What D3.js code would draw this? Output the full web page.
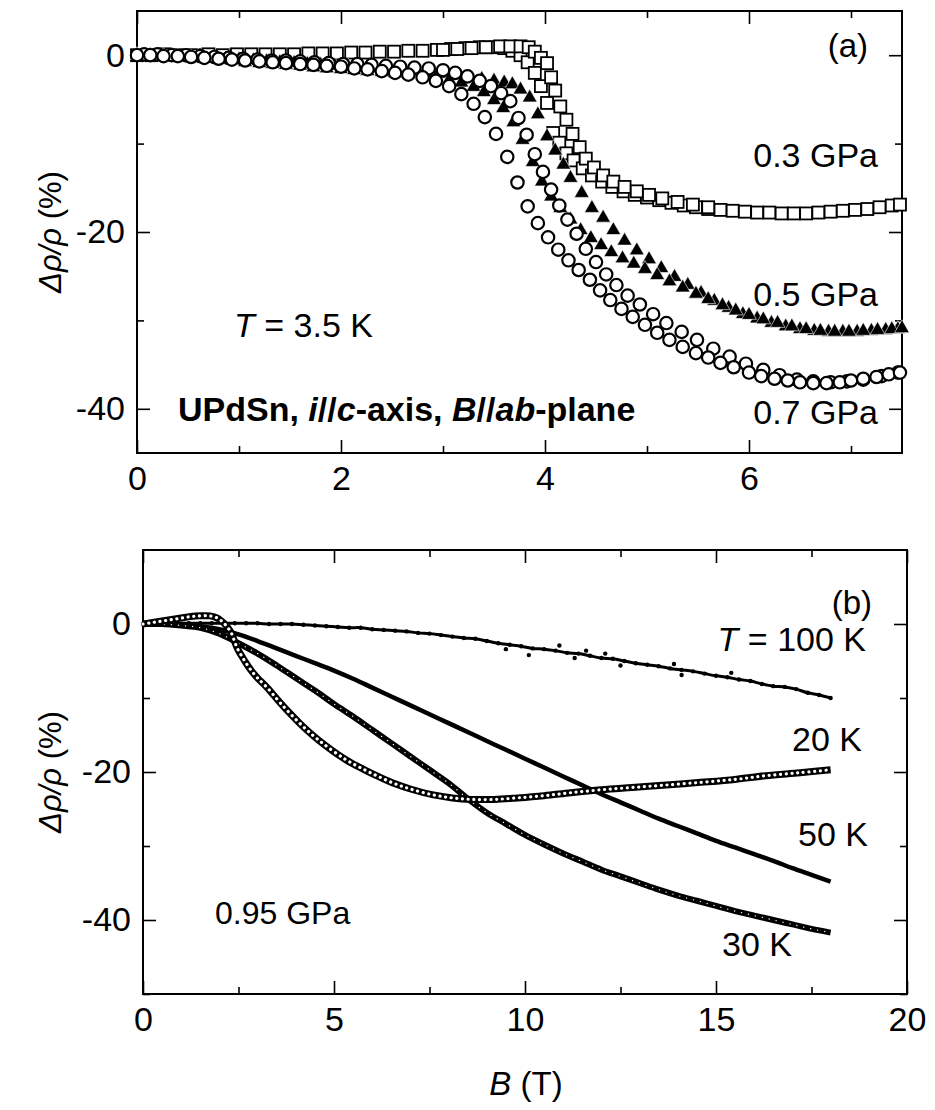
<!DOCTYPE html>
<html>
<head>
<meta charset="UTF-8">
<title>UPdSn magnetoresistance</title>
<script src="https://d3js.org/d3.v7.min.js"></script>
<style>
  body { margin: 0; background: #fff; }
  svg { display: block; font-family: "Liberation Sans", Arial, sans-serif; }
</style>
</head>
<body>
<svg id="chart" width="935" height="1110"></svg>
<script>
// ---- panel (a): T = 3.5 K, [B (T), drho/rho (%)] ----
const sq03a = [[0,0],[0.14,0],[0.28,0.1],[0.42,0],[0.56,0],[0.7,0.1],[0.84,0],[0.98,0.1],[1.12,0.1],[1.26,0.1],[1.4,0.1],[1.54,0.1],[1.68,0.2],[1.82,0.2],[1.96,0.2],[2.1,0.3],[2.24,0.3],[2.38,0.4],[2.52,0.4],[2.66,0.5],[2.8,0.5],[2.94,0.6],[3.08,0.7],[3.22,0.8],[3.36,0.9],[3.5,0.9],[3.6,0.8],[3.68,0.5],[3.76,0],[3.83,-0.8],[3.9,-2.0],[3.96,-3.5],[4.02,-5.4],[4.08,-8.8],[4.14,-9.9],[4.21,-11.1],[4.28,-11.9],[4.37,-12.8],[4.46,-13.6],[4.56,-14.3],[4.66,-14.9],[4.77,-15.4],[4.88,-15.8],[5.0,-16.1],[5.12,-16.4],[5.24,-16.7],[5.36,-17.0],[5.48,-17.2],[5.6,-17.4],[5.72,-17.5],[5.84,-17.6],[5.96,-17.7],[6.08,-17.8],[6.2,-17.8],[6.32,-17.9],[6.44,-17.9],[6.56,-17.9],[6.68,-17.8],[6.8,-17.7],[6.92,-17.6],[7.04,-17.5],[7.16,-17.4],[7.28,-17.2],[7.4,-17.0],[7.48,-16.9]];
const sq03b = [[3.0,0.6],[3.14,0.7],[3.28,0.8],[3.42,0.9],[3.56,1.0],[3.66,1.0],[3.76,1.0],[3.84,0.9],[3.9,0.4],[3.96,-0.3],[4.02,-0.9],[4.06,-2.5],[4.1,-4.0],[4.15,-5.8],[4.21,-7.3],[4.27,-8.9],[4.34,-10.4],[4.4,-11.7],[4.48,-12.7],[4.57,-13.6],[4.67,-14.3],[4.78,-14.9],[4.9,-15.4],[5.02,-15.8],[5.15,-16.2],[5.3,-16.6],[5.45,-16.9],[5.6,-17.2]];
const tri05a = [[0,0],[0.13,0],[0.26,-0.1],[0.4,-0.2],[0.53,-0.3],[0.66,-0.4],[0.8,-0.5],[0.93,-0.6],[1.06,-0.8],[1.2,-0.9],[1.33,-1.0],[1.46,-1.1],[1.6,-1.2],[1.73,-1.4],[1.86,-1.5],[2.0,-1.6],[2.13,-1.7],[2.26,-1.8],[2.4,-1.9],[2.53,-2.0],[2.66,-2.1],[2.8,-2.3],[2.93,-2.5],[3.06,-2.8],[3.18,-3.1],[3.3,-3.6],[3.4,-4.2],[3.5,-5.1],[3.59,-6.0],[3.69,-7.6],[3.78,-9.6],[3.88,-12.1],[3.97,-14.3],[4.06,-16.0],[4.15,-17.3],[4.25,-18.6],[4.35,-19.8],[4.45,-20.7],[4.55,-21.5],[4.65,-22.3],[4.76,-23.0],[4.87,-23.6],[4.98,-24.2],[5.1,-24.9],[5.22,-25.6],[5.35,-26.3],[5.48,-27.0],[5.6,-27.6],[5.74,-28.3],[5.87,-28.9],[6.0,-29.4],[6.14,-29.9],[6.28,-30.3],[6.42,-30.7],[6.56,-31.0],[6.7,-31.2],[6.84,-31.3],[6.98,-31.3],[7.12,-31.2],[7.26,-31.1],[7.4,-31.0],[7.5,-30.9]];
const tri05b = [[0.07,0],[0.2,0],[0.34,-0.1],[0.47,-0.2],[0.6,-0.2],[0.74,-0.3],[0.87,-0.4],[1.0,-0.5],[1.14,-0.6],[1.27,-0.7],[1.4,-0.8],[1.54,-0.9],[1.67,-1.0],[1.8,-1.1],[1.94,-1.2],[2.07,-1.3],[2.2,-1.4],[2.34,-1.5],[2.47,-1.6],[2.6,-1.7],[2.74,-1.8],[2.87,-2.0],[3.0,-2.1],[3.13,-2.3],[3.26,-2.5],[3.38,-2.7],[3.5,-2.9],[3.6,-3.1],[3.68,-3.3],[3.76,-3.9],[3.85,-4.8],[3.93,-6.7],[4.02,-9.2],[4.1,-10.8],[4.18,-12.4],[4.25,-13.9],[4.36,-15.6],[4.46,-17.3],[4.57,-18.4],[4.67,-19.8],[4.78,-21.0],[4.9,-22.1],[5.02,-23.1],[5.14,-24.1],[5.27,-25.1],[5.4,-26.0],[5.53,-26.9],[5.66,-27.8],[5.8,-28.6],[5.94,-29.3],[6.08,-29.8],[6.22,-30.3],[6.36,-30.7],[6.5,-31.0],[6.64,-31.2],[6.78,-31.3],[6.92,-31.3],[7.06,-31.3],[7.2,-31.2],[7.34,-31.1],[7.46,-31.0]];
const ci07a = [[0,0],[0.13,0],[0.26,-0.1],[0.4,-0.1],[0.53,-0.2],[0.66,-0.3],[0.8,-0.4],[0.93,-0.5],[1.06,-0.6],[1.2,-0.7],[1.33,-0.8],[1.46,-0.9],[1.6,-1.0],[1.73,-1.1],[1.86,-1.2],[2.0,-1.3],[2.13,-1.5],[2.26,-1.6],[2.4,-1.8],[2.53,-2.0],[2.66,-2.2],[2.8,-2.5],[2.93,-2.9],[3.06,-3.5],[3.18,-4.4],[3.3,-5.5],[3.41,-7.0],[3.52,-8.9],[3.63,-11.5],[3.73,-14.4],[3.83,-17.1],[3.93,-19.0],[4.03,-20.6],[4.13,-22.0],[4.23,-23.2],[4.33,-24.3],[4.44,-25.4],[4.54,-26.6],[4.64,-27.7],[4.75,-28.7],[4.86,-29.6],[4.98,-30.5],[5.1,-31.4],[5.22,-32.2],[5.35,-33.0],[5.48,-33.7],[5.6,-34.2],[5.72,-34.8],[5.85,-35.3],[6.0,-35.9],[6.12,-36.3],[6.25,-36.6],[6.38,-36.8],[6.5,-37.0],[6.63,-37.1],[6.76,-37.1],[6.89,-37.0],[7.0,-36.8],[7.12,-36.6],[7.25,-36.4],[7.37,-36.1],[7.48,-35.9]];
const ci07b = [[0.07,0.1],[0.2,0.1],[0.34,0],[0.48,0],[0.62,-0.1],[0.76,-0.2],[0.9,-0.3],[1.04,-0.4],[1.18,-0.5],[1.32,-0.6],[1.46,-0.6],[1.6,-0.7],[1.74,-0.8],[1.88,-0.9],[2.02,-1.0],[2.16,-1.0],[2.3,-1.1],[2.44,-1.2],[2.58,-1.3],[2.72,-1.4],[2.86,-1.5],[3.0,-1.7],[3.12,-2.0],[3.24,-2.4],[3.36,-2.9],[3.47,-3.5],[3.57,-4.3],[3.66,-5.2],[3.74,-7.1],[3.82,-9.0],[3.9,-11.2],[3.98,-13.2],[4.06,-15.2],[4.14,-17.0],[4.22,-18.6],[4.31,-20.2],[4.4,-21.9],[4.5,-23.4],[4.6,-24.8],[4.7,-26.0],[4.81,-27.2],[4.93,-28.2],[5.06,-29.3],[5.19,-30.3],[5.34,-31.3],[5.49,-32.2],[5.65,-33.2],[5.81,-34.1],[5.97,-34.9],[6.14,-35.6],[6.3,-36.2],[6.47,-36.7],[6.63,-36.9],[6.8,-37.0],[6.96,-36.9],[7.12,-36.7],[7.3,-36.3],[7.46,-35.9]];

// ---- panel (b): 0.95 GPa ----
const t100 = [[0,0],[0.3,0],[0.6,0.1],[0.9,0.1],[1.2,0.1],[1.5,0.1],[1.8,0.1],[2.1,0.1],[2.4,0.1],[2.7,0.1],[3.0,0.1],[3.3,0],[3.6,0],[3.9,0],[4.2,-0.1],[4.5,-0.2],[4.8,-0.3],[5.1,-0.4],[5.4,-0.5],[5.7,-0.5],[6.0,-0.7],[6.3,-0.8],[6.6,-0.9],[6.9,-1.0],[7.2,-1.2],[7.5,-1.3],[7.8,-1.5],[8.1,-1.7],[8.4,-1.9],[8.7,-2.0],[9.0,-2.3],[9.3,-2.6],[9.6,-2.8],[9.9,-3.0],[10.2,-3.3],[10.5,-3.4],[10.8,-3.6],[11.1,-3.9],[11.4,-4.0],[11.7,-4.3],[12.0,-4.6],[12.3,-4.7],[12.6,-5.0],[12.9,-5.3],[13.2,-5.5],[13.5,-5.7],[13.8,-6.0],[14.1,-6.2],[14.4,-6.4],[14.7,-6.7],[15.0,-7.0],[15.3,-7.2],[15.6,-7.5],[15.9,-7.7],[16.2,-8.1],[16.5,-8.4],[16.8,-8.5],[17.1,-8.8],[17.4,-9.3],[17.7,-9.6],[18.0,-10.0]];
const t100stray = [[10.1,-4.2],[10.9,-2.9],[11.3,-4.6],[11.6,-3.6],[12.1,-4.0],[12.5,-5.6],[13.9,-5.4],[14.1,-6.9],[9.5,-3.4],[15.4,-6.6]];
const t20 = [[0,0],[0.25,0.2],[0.5,0.4],[0.75,0.6],[1.0,0.8],[1.25,1.0],[1.5,1.1],[1.75,1.1],[1.95,0.8],[2.1,0.2],[2.22,-0.5],[2.32,-1.3],[2.4,-2.4],[2.48,-3.4],[2.58,-4.3],[2.7,-5.3],[2.85,-6.4],[3.0,-7.3],[3.25,-8.6],[3.6,-10.7],[4.1,-13.4],[4.6,-15.7],[5.3,-18.3],[5.8,-19.7],[6.2,-20.7],[6.6,-21.6],[7.0,-22.3],[7.6,-23.1],[8.1,-23.5],[8.6,-23.7],[9.2,-23.7],[9.8,-23.5],[10.5,-23.2],[11.2,-22.8],[12.0,-22.4],[12.8,-22.1],[13.6,-21.8],[14.6,-21.4],[15.5,-21.0],[16.3,-20.5],[17.2,-20.1],[18.0,-19.7]];
const t50 = [[0,0],[0.5,0],[1.0,-0.1],[1.5,-0.3],[2.0,-0.7],[2.5,-1.4],[3.0,-2.3],[3.5,-3.3],[4.0,-4.3],[4.5,-5.3],[5.0,-6.3],[5.5,-7.4],[6.0,-8.6],[6.5,-9.8],[7.0,-11.0],[7.5,-12.2],[8.0,-13.4],[8.5,-14.6],[9.0,-15.8],[9.5,-17.0],[10.0,-18.2],[10.5,-19.4],[11.0,-20.6],[11.5,-21.8],[12.0,-23.0],[12.5,-24.1],[13.0,-25.2],[13.5,-26.3],[14.0,-27.3],[14.5,-28.3],[15.0,-29.3],[15.5,-30.2],[16.0,-31.1],[16.5,-32.0],[17.0,-33.0],[17.5,-33.9],[18.0,-34.8]];
const t30 = [[0,0],[0.5,0],[1.0,-0.2],[1.5,-0.5],[2.0,-1.3],[2.5,-2.6],[3.0,-4.0],[3.5,-5.6],[4.0,-7.3],[4.5,-9.0],[5.0,-10.8],[5.5,-12.5],[6.0,-14.3],[6.5,-16.1],[7.0,-17.9],[7.5,-19.7],[8.0,-21.5],[8.5,-23.6],[9.0,-25.5],[9.5,-27.0],[10.0,-28.5],[10.5,-29.8],[11.0,-31.0],[11.5,-32.1],[12.0,-33.2],[12.5,-34.1],[13.0,-35.0],[13.5,-35.9],[14.0,-36.7],[14.5,-37.4],[15.0,-38.1],[15.5,-38.8],[16.0,-39.4],[16.5,-40.0],[17.0,-40.6],[17.5,-41.2],[18.0,-41.7]];

// ticks
const xMajA = [0, 2, 4, 6], xMinA = [1, 3, 5, 7];
const yMajA = [0, -20, -40], yMinA = [-10, -30];
const xMajB = [0, 5, 10, 15, 20], xMinB = [2.5, 7.5, 12.5, 17.5];
const yMajB = [0, -20, -40], yMinB = [-10, -30, -50];

const svg = d3.select("#chart");
svg.append("rect").attr("width", 935).attr("height", 1110).attr("fill", "#fff");

const xa = d3.scaleLinear().domain([0, 7.5]).range([137, 902]);
const ya = d3.scaleLinear().domain([-45, 5]).range([453, 11]);
const xb = d3.scaleLinear().domain([0, 20]).range([143, 907]);
const yb = d3.scaleLinear().domain([-50, 10]).range([994, 550]);

function frame(x, y, xMaj, xMin, yMaj, yMin) {
  const [x0, x1] = x.range(), [y0, y1] = y.range();
  const fix = g => {
    g.select(".domain").remove();
    g.attr("font-size", 34).attr("font-family", null);
    g.selectAll("line").attr("stroke-width", 1.6);
  };
  const fmt = d => String(d);
  svg.append("g").attr("transform", `translate(0,${y0})`)
    .call(d3.axisBottom(x).tickValues(xMaj).tickSize(-13).tickPadding(13).tickFormat(fmt)).call(fix);
  svg.append("g").attr("transform", `translate(0,${y0})`)
    .call(d3.axisBottom(x).tickValues(xMin).tickSize(-7).tickFormat("")).call(fix);
  svg.append("g").attr("transform", `translate(0,${y1})`)
    .call(d3.axisTop(x).tickValues(xMaj).tickSize(-13).tickFormat("")).call(fix);
  svg.append("g").attr("transform", `translate(0,${y1})`)
    .call(d3.axisTop(x).tickValues(xMin).tickSize(-7).tickFormat("")).call(fix);
  svg.append("g").attr("transform", `translate(${x0},0)`)
    .call(d3.axisLeft(y).tickValues(yMaj).tickSize(-13).tickPadding(12).tickFormat(fmt)).call(fix);
  svg.append("g").attr("transform", `translate(${x0},0)`)
    .call(d3.axisLeft(y).tickValues(yMin).tickSize(-7).tickFormat("")).call(fix);
  svg.append("g").attr("transform", `translate(${x1},0)`)
    .call(d3.axisRight(y).tickValues(yMaj).tickSize(-13).tickFormat("")).call(fix);
  svg.append("g").attr("transform", `translate(${x1},0)`)
    .call(d3.axisRight(y).tickValues(yMin).tickSize(-7).tickFormat("")).call(fix);
  svg.append("rect").attr("x", x0).attr("y", y1).attr("width", x1 - x0).attr("height", y0 - y1)
    .attr("fill", "none").attr("stroke", "#000").attr("stroke-width", 2);
}

// text with italic pieces: parts = [[text, "i"?], ...]
function label(x, y, parts, opt = {}) {
  const t = svg.append("text").attr("x", x).attr("y", y)
    .attr("font-size", opt.size || 33)
    .attr("text-anchor", opt.anchor || "start")
    .attr("font-weight", opt.bold ? "bold" : null);
  if (opt.rotate) t.attr("transform", `rotate(-90,${x},${y})`);
  parts.forEach(([s, st]) => t.append("tspan").text(s).attr("font-style", st === "i" ? "italic" : null));
  return t;
}

// ---------- panel (a) ----------
frame(xa, ya, xMajA, xMinA, yMajA, yMinA);
const gA = svg.append("g");

gA.selectAll(".sq").data(sq03a.concat(sq03b)).join("rect")
  .attr("x", d => xa(d[0]) - 6).attr("y", d => ya(d[1]) - 6)
  .attr("width", 12).attr("height", 12)
  .attr("fill", "#fff").attr("stroke", "#000").attr("stroke-width", 1.8);

const tri = d3.symbol(d3.symbolTriangle, 95);
gA.selectAll(".tri").data(tri05b.concat(tri05a)).join("path")
  .attr("d", tri)
  .attr("transform", d => `translate(${xa(d[0])},${ya(d[1])})`)
  .attr("fill", "#000").attr("stroke", "#fff").attr("stroke-width", 0.6);

gA.selectAll(".ci").data(ci07b.concat(ci07a)).join("circle")
  .attr("cx", d => xa(d[0])).attr("cy", d => ya(d[1])).attr("r", 6.2)
  .attr("fill", "#fff").attr("stroke", "#000").attr("stroke-width", 2.2);

label(868, 57, [["(a)"]], { anchor: "end" });
label(878, 167, [["0.3 GPa"]], { anchor: "end", size: 34 });
label(878, 306, [["0.5 GPa"]], { anchor: "end", size: 34 });
label(878, 424, [["0.7 GPa"]], { anchor: "end", size: 34 });
label(234, 337, [["T", "i"], [" = 3.5 K"]], { size: 34 });
label(178, 421, [["UPdSn, "], ["i", "i"], ["//"], ["c", "i"], ["-axis, "], ["B", "i"], ["//"], ["ab", "i"], ["-plane"]], { bold: true, size: 34 });
label(61, 232, [["Δρ/ρ", "i"], [" (%)"]], { anchor: "middle", rotate: true, size: 31 });

// ---------- panel (b) ----------
frame(xb, yb, xMajB, xMinB, yMajB, yMinB);
const gB = svg.append("g");
const line = d3.line().x(d => xb(d[0])).y(d => yb(d[1])).curve(d3.curveCatmullRom);

// 100 K: small noisy dots
gB.append("path").attr("d", line(t100)).attr("fill", "none").attr("stroke", "#000").attr("stroke-width", 3);
gB.selectAll(".d100").data(t100.concat(t100stray)).join("circle")
  .attr("cx", d => xb(d[0])).attr("cy", d => yb(d[1])).attr("r", 2.2).attr("fill", "#000");

// 50 K: dense dots look like a thick solid line
gB.append("path").attr("d", line(t50)).attr("fill", "none").attr("stroke", "#000").attr("stroke-width", 4.5);

// 30 K: thick band of small open circles
gB.append("path").attr("d", line(t30)).attr("fill", "none").attr("stroke", "#000").attr("stroke-width", 6);
gB.append("path").attr("d", line(t30)).attr("fill", "none").attr("stroke", "#fff")
  .attr("stroke-width", 1.3).attr("stroke-linecap", "round").attr("stroke-dasharray", "0.1 7");

// 20 K: chain of small open circles
gB.append("path").attr("d", line(t20)).attr("fill", "none").attr("stroke", "#000").attr("stroke-width", 7);
gB.append("path").attr("d", line(t20)).attr("fill", "none").attr("stroke", "#fff")
  .attr("stroke-width", 3.2).attr("stroke-linecap", "round").attr("stroke-dasharray", "0.1 5.6");

label(872, 614, [["(b)"]], { anchor: "end" });
label(866, 651, [["T", "i"], [" = 100 K"]], { anchor: "end", size: 34 });
label(862, 751, [["20 K"]], { anchor: "end", size: 34 });
label(868, 846, [["50 K"]], { anchor: "end", size: 34 });
label(792, 956, [["30 K"]], { anchor: "end", size: 34 });
label(215, 924, [["0.95 GPa"]], { size: 32 });
label(61, 772, [["Δρ/ρ", "i"], [" (%)"]], { anchor: "middle", rotate: true, size: 31 });
label(526, 1095, [["B", "i"], [" (T)"]], { anchor: "middle", size: 33 });
</script>
</body>
</html>
